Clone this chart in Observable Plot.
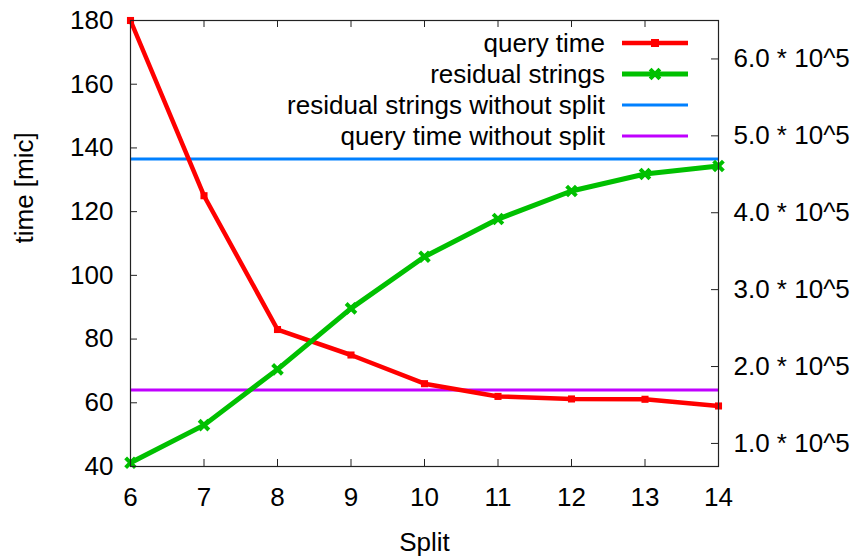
<!DOCTYPE html>
<html><head><meta charset="utf-8">
<script src="https://cdn.jsdelivr.net/npm/d3@7"></script>
<script src="https://cdn.jsdelivr.net/npm/@observablehq/plot@0.6"></script>
<style>
body{margin:0;background:#fff;}
#wrap{position:relative;width:857px;height:558px;font-family:"Liberation Sans",Arial,sans-serif;}
#wrap svg{display:block;}
#legend{position:absolute;left:0;top:0;pointer-events:none;}
</style></head><body><div id="wrap"></div>
<script>
// ---- data ----
const splits = [6, 7, 8, 9, 10, 11, 12, 13, 14];
const queryTime = [180, 125, 83, 75, 66, 62, 61.2, 61.1, 59];
const residualStrings = [74800, 123800, 196300, 275600, 342800, 391800, 428300, 450400, 460800];
const residualNoSplit = 470000;
const queryNoSplit = 64;
const xTicks = [6, 7, 8, 9, 10, 11, 12, 13, 14];
const yTicks = [40, 60, 80, 100, 120, 140, 160, 180];
const y2Ticks = [100000, 200000, 300000, 400000, 500000, 600000];
const y2TickLabels = ["1.0 * 10^5", "2.0 * 10^5", "3.0 * 10^5", "4.0 * 10^5", "5.0 * 10^5", "6.0 * 10^5"];
const legendLabels = ["query time", "residual strings", "residual strings without split", "query time without split"];
const legendColors = ["#ff0000", "#00c000", "#0080ff", "#c000ff"];
const legendMarkers = ["square", "times", null, null];

// ---- layout ----
const W = 857, H = 558, mL = 130, mR = 139, mT = 20, mB = 92;
const plotW = W - mL - mR, plotH = H - mT - mB;
const yDomain = [40, 180];
const y2Domain = [70000, 650000];
const toY = v => yDomain[0] + (v - y2Domain[0]) * (yDomain[1] - yDomain[0]) / (y2Domain[1] - y2Domain[0]);
const y2Mapped = y2Ticks.map(toY);

const qData = splits.map((s, i) => ({split: s, v: queryTime[i]}));
const rData = splits.map((s, i) => ({split: s, v: toY(residualStrings[i])}));
const font = "'Liberation Sans', Arial, sans-serif";
const fs = 26;

const chart = Plot.plot({
  width: W, height: H,
  marginLeft: mL, marginRight: mR, marginTop: mT, marginBottom: mB,
  style: {fontFamily: font, fontSize: fs + "px", color: "#000", background: "#fff", overflow: "visible"},
  x: {domain: [6, 14]},
  y: {domain: yDomain},
  marks: [
    Plot.ruleY([toY(residualNoSplit)], {stroke: legendColors[2], strokeWidth: 3}),
    Plot.ruleY([queryNoSplit], {stroke: legendColors[3], strokeWidth: 3}),
    Plot.line(qData, {x: "split", y: "v", stroke: legendColors[0], strokeWidth: 4.5}),
    Plot.dot(qData, {x: "split", y: "v", symbol: "square", fill: legendColors[0], r: 4}),
    Plot.line(rData, {x: "split", y: "v", stroke: legendColors[1], strokeWidth: 5}),
    Plot.dot(rData, {x: "split", y: "v", symbol: "times", stroke: legendColors[1], strokeWidth: 4, r: 4.5}),
    Plot.frame({stroke: "#222", strokeWidth: 1.2}),
    Plot.tickX(xTicks, {x: d => d, insetTop: plotH - 7, stroke: "#222"}),
    Plot.tickX(xTicks, {x: d => d, insetBottom: plotH - 7, stroke: "#222"}),
    Plot.tickY(yTicks, {y: d => d, insetRight: plotW - 7, stroke: "#222"}),
    Plot.tickY(y2Mapped, {y: d => d, insetLeft: plotW - 7, stroke: "#222"}),
    Plot.axisX(xTicks, {tickSize: 0, tickPadding: 21, fontSize: fs, label: null}),
    Plot.axisY(yTicks, {tickSize: 0, tickPadding: 17, fontSize: fs, label: null}),
    Plot.axisY(y2Mapped, {anchor: "right", tickSize: 0, tickPadding: 15, fontSize: fs, label: null,
      tickFormat: d => y2TickLabels[y2Mapped.findIndex(v => Math.abs(v - d) < 1e-6)]}),
    Plot.text(["time [mic]"], {text: d => d, frameAnchor: "left", rotate: -90, dx: -106, fontSize: fs}),
    Plot.text(["Split"], {text: d => d, frameAnchor: "bottom", dy: 84, fontSize: fs})
  ]
});
const wrap = document.getElementById("wrap");
wrap.appendChild(chart);

// ---- legend overlay (top right, inside plot) ----
const legX = 605, legY0 = 43, legStep = 31, sampleX0 = 622, sampleX1 = 688;
const leg = d3.select(wrap).append("svg").attr("id", "legend").attr("width", W).attr("height", H)
  .attr("font-family", font).attr("font-size", fs);
legendLabels.forEach((lab, i) => {
  const y = legY0 + i * legStep;
  leg.append("text").attr("x", legX).attr("y", y).attr("text-anchor", "end")
    .attr("dominant-baseline", "central").attr("fill", "#000").text(lab);
  leg.append("line").attr("x1", sampleX0).attr("x2", sampleX1).attr("y1", y).attr("y2", y)
    .attr("stroke", legendColors[i]).attr("stroke-width", i === 0 ? 4.5 : i === 1 ? 5 : 3);
  const cx = (sampleX0 + sampleX1) / 2;
  if (legendMarkers[i] === "square") {
    leg.append("rect").attr("x", cx - 4).attr("y", y - 4).attr("width", 8).attr("height", 8).attr("fill", legendColors[i]);
  } else if (legendMarkers[i] === "times") {
    leg.append("path").attr("d", d3.symbol(d3.symbolTimes, 64)(null)).attr("transform", `translate(${cx},${y})`)
      .attr("stroke", legendColors[i]).attr("stroke-width", 4).attr("fill", "none");
  }
});
</script></body></html>
